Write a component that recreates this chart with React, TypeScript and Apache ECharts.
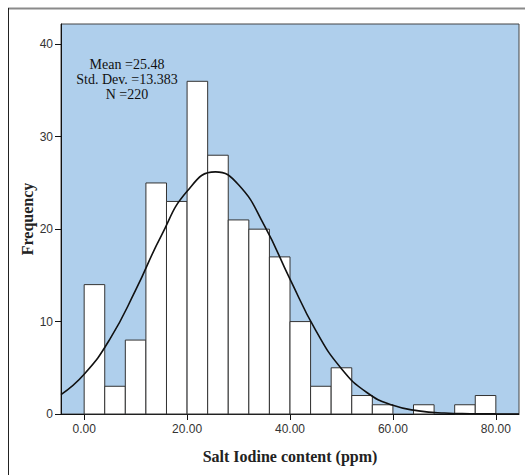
import React, { useEffect, useRef } from "react";
import * as echarts from "echarts";

// Histogram bins (ppm), width 4
const binStarts = [0, 4, 8, 12, 16, 20, 24, 28, 32, 36, 40, 44, 48, 52, 56, 60, 64, 68, 72, 76];
const binWidth = 4;
const counts = [14, 3, 8, 25, 23, 36, 28, 21, 20, 17, 10, 3, 5, 2, 1, 0, 1, 0, 1, 2];

// Normal curve
const curveX = [-4.5, 0, 5, 10, 15, 20, 25.5, 30, 35, 40, 45, 50, 55, 60, 65, 70, 75, 80, 84.5];
const curveY = [2.1, 4.3, 8.1, 13.4, 19.3, 24.1, 26.2, 24.8, 20.4, 14.6, 9.05, 4.9, 2.3, 0.94, 0.34, 0.1, 0.03, 0.01, 0.0];

const xTicks = [0, 20, 40, 60, 80];
const yTicks = [0, 10, 20, 30, 40];

const statsLines = ["Mean =25.48", "Std. Dev. =13.383", "N =220"];

export default function App() {
  const ref = useRef<HTMLDivElement>(null);
  useEffect(() => {
    if (!ref.current) return;
    const chart = echarts.init(ref.current, undefined, { renderer: "svg" });
    const barData = binStarts.map((s, i) => [s, s + binWidth, counts[i]]);
    const lineData = curveX.map((x, i) => [x, curveY[i]]);
    chart.setOption({
      animation: false,
      backgroundColor: "#ffffff",
      grid: {
        left: 61,
        top: 24,
        width: 458,
        height: 390,
        show: true,
        backgroundColor: "#afcfec",
        borderColor: "#444",
        borderWidth: 1,
      },
      xAxis: {
        type: "value",
        min: -4.5,
        max: 84.5,
        splitLine: { show: false },
        axisLine: { show: true, onZero: false, lineStyle: { color: "#111", width: 1 } },
        axisTick: { show: true, length: 6, customValues: xTicks, lineStyle: { color: "#111" } },
        axisLabel: {
          customValues: xTicks,
          formatter: (v: number) => v.toFixed(2),
          color: "#333",
          fontFamily: "Liberation Sans, Arial, sans-serif",
          fontSize: 12,
          margin: 9,
        },
      },
      yAxis: {
        type: "value",
        min: 0,
        max: 42.2,
        splitLine: { show: false },
        axisLine: { show: true, onZero: false, lineStyle: { color: "#111", width: 1 } },
        axisTick: { show: true, length: 6, customValues: yTicks, lineStyle: { color: "#111" } },
        axisLabel: {
          customValues: yTicks,
          color: "#333",
          fontFamily: "Liberation Sans, Arial, sans-serif",
          fontSize: 12,
          margin: 8,
        },
      },
      series: [
        {
          type: "custom",
          data: barData,
          encode: { x: [0, 1], y: 2 },
          renderItem: (params: any, api: any) => {
            const x0 = api.value(0);
            const x1 = api.value(1);
            const v = api.value(2);
            if (!v) return { type: "group", children: [] };
            const p0 = api.coord([x0, v]);
            const p1 = api.coord([x1, 0]);
            return {
              type: "rect",
              shape: { x: p0[0], y: p0[1], width: p1[0] - p0[0], height: p1[1] - p0[1] },
              style: { fill: "#ffffff", stroke: "#333", lineWidth: 1 },
            };
          },
          z: 2,
        },
        {
          type: "line",
          data: lineData,
          smooth: true,
          showSymbol: false,
          symbol: "none",
          lineStyle: { color: "#111", width: 1.6 },
          z: 3,
        },
      ],
      graphic: [
        {
          type: "line",
          shape: { x1: 8, y1: 8.5, x2: 525, y2: 8.5 },
          style: { stroke: "#8a8a8a", lineWidth: 2 },
        },
        {
          type: "line",
          shape: { x1: 8.5, y1: 8, x2: 8.5, y2: 475 },
          style: { stroke: "#222", lineWidth: 1 },
        },
        {
          type: "text",
          x: 27,
          y: 219,
          rotation: Math.PI / 2,
          style: {
            text: "Frequency",
            fill: "#222",
            font: "bold 16px 'Liberation Serif', 'Times New Roman', serif",
            textAlign: "center",
            textVerticalAlign: "middle",
          },
        },
        {
          type: "text",
          x: 290,
          y: 456,
          style: {
            text: "Salt Iodine content (ppm)",
            fill: "#222",
            font: "bold 16px 'Liberation Serif', 'Times New Roman', serif",
            textAlign: "center",
            textVerticalAlign: "middle",
          },
        },
        ...statsLines.map((t, i) => ({
          type: "text",
          x: 127,
          y: 64 + i * 15,
          z: 10,
          style: {
            text: t,
            fill: "#111",
            font: "14px 'Liberation Serif', 'Times New Roman', serif",
            textAlign: "center",
            textVerticalAlign: "middle",
          },
        })),
      ],
    });
    return () => chart.dispose();
  }, []);
  return (
    <div
      ref={ref}
      style={{ position: "fixed", left: 0, top: 0, width: 525, height: 475 }}
    />
  );
}
